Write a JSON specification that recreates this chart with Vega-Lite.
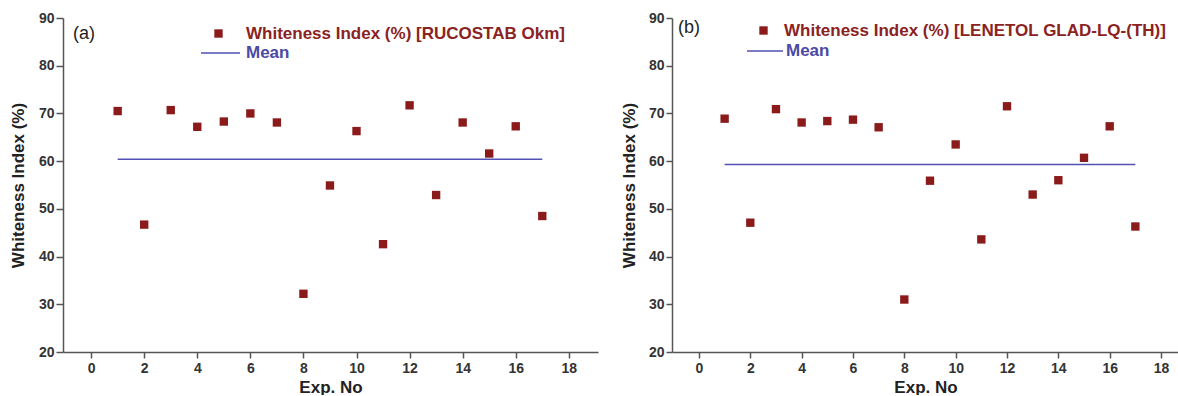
{
  "$schema": "https://vega.github.io/schema/vega-lite/v6.json",
  "background": "white",
  "padding": {"left": 9, "top": 11, "right": 0, "bottom": 0},
  "spacing": 22,
  "datasets": {
    "ptsA": [
      {"exp": 1, "wi": 70.5, "series": "Whiteness Index (%) [RUCOSTAB Okm]"},
      {"exp": 2, "wi": 46.7, "series": "Whiteness Index (%) [RUCOSTAB Okm]"},
      {"exp": 3, "wi": 70.7, "series": "Whiteness Index (%) [RUCOSTAB Okm]"},
      {"exp": 4, "wi": 67.2, "series": "Whiteness Index (%) [RUCOSTAB Okm]"},
      {"exp": 5, "wi": 68.3, "series": "Whiteness Index (%) [RUCOSTAB Okm]"},
      {"exp": 6, "wi": 70.0, "series": "Whiteness Index (%) [RUCOSTAB Okm]"},
      {"exp": 7, "wi": 68.1, "series": "Whiteness Index (%) [RUCOSTAB Okm]"},
      {"exp": 8, "wi": 32.2, "series": "Whiteness Index (%) [RUCOSTAB Okm]"},
      {"exp": 9, "wi": 54.9, "series": "Whiteness Index (%) [RUCOSTAB Okm]"},
      {"exp": 10, "wi": 66.3, "series": "Whiteness Index (%) [RUCOSTAB Okm]"},
      {"exp": 11, "wi": 42.6, "series": "Whiteness Index (%) [RUCOSTAB Okm]"},
      {"exp": 12, "wi": 71.7, "series": "Whiteness Index (%) [RUCOSTAB Okm]"},
      {"exp": 13, "wi": 52.9, "series": "Whiteness Index (%) [RUCOSTAB Okm]"},
      {"exp": 14, "wi": 68.1, "series": "Whiteness Index (%) [RUCOSTAB Okm]"},
      {"exp": 15, "wi": 61.6, "series": "Whiteness Index (%) [RUCOSTAB Okm]"},
      {"exp": 16, "wi": 67.3, "series": "Whiteness Index (%) [RUCOSTAB Okm]"},
      {"exp": 17, "wi": 48.5, "series": "Whiteness Index (%) [RUCOSTAB Okm]"}
    ],
    "ptsB": [
      {"exp": 1, "wi": 68.9, "series": "Whiteness Index (%) [LENETOL GLAD-LQ-(TH)]"},
      {"exp": 2, "wi": 47.1, "series": "Whiteness Index (%) [LENETOL GLAD-LQ-(TH)]"},
      {"exp": 3, "wi": 70.9, "series": "Whiteness Index (%) [LENETOL GLAD-LQ-(TH)]"},
      {"exp": 4, "wi": 68.1, "series": "Whiteness Index (%) [LENETOL GLAD-LQ-(TH)]"},
      {"exp": 5, "wi": 68.4, "series": "Whiteness Index (%) [LENETOL GLAD-LQ-(TH)]"},
      {"exp": 6, "wi": 68.7, "series": "Whiteness Index (%) [LENETOL GLAD-LQ-(TH)]"},
      {"exp": 7, "wi": 67.1, "series": "Whiteness Index (%) [LENETOL GLAD-LQ-(TH)]"},
      {"exp": 8, "wi": 31.0, "series": "Whiteness Index (%) [LENETOL GLAD-LQ-(TH)]"},
      {"exp": 9, "wi": 55.9, "series": "Whiteness Index (%) [LENETOL GLAD-LQ-(TH)]"},
      {"exp": 10, "wi": 63.5, "series": "Whiteness Index (%) [LENETOL GLAD-LQ-(TH)]"},
      {"exp": 11, "wi": 43.6, "series": "Whiteness Index (%) [LENETOL GLAD-LQ-(TH)]"},
      {"exp": 12, "wi": 71.5, "series": "Whiteness Index (%) [LENETOL GLAD-LQ-(TH)]"},
      {"exp": 13, "wi": 53.0, "series": "Whiteness Index (%) [LENETOL GLAD-LQ-(TH)]"},
      {"exp": 14, "wi": 56.0, "series": "Whiteness Index (%) [LENETOL GLAD-LQ-(TH)]"},
      {"exp": 15, "wi": 60.7, "series": "Whiteness Index (%) [LENETOL GLAD-LQ-(TH)]"},
      {"exp": 16, "wi": 67.3, "series": "Whiteness Index (%) [LENETOL GLAD-LQ-(TH)]"},
      {"exp": 17, "wi": 46.3, "series": "Whiteness Index (%) [LENETOL GLAD-LQ-(TH)]"}
    ],
    "meanA": [{"start": 1, "end": 17, "mean": 60.4, "series": "Mean"}],
    "meanB": [{"start": 1, "end": 17, "mean": 59.3, "series": "Mean"}]
  },
  "config": {
    "view": {"stroke": null},
    "font": "Liberation Sans",
    "axis": {
      "grid": false,
      "domainColor": "#555555",
      "domainWidth": 1.5,
      "tickColor": "#555555",
      "tickWidth": 1.5,
      "tickSize": 6,
      "labelFont": "Liberation Sans",
      "labelFontSize": 14,
      "labelFontWeight": "bold",
      "labelColor": "#333333",
      "titleFont": "Liberation Sans",
      "titleFontSize": 17,
      "titleFontWeight": "bold",
      "titleColor": "#222222"
    },
    "legend": {
      "orient": "none",
      "padding": 0,
      "labelFont": "Liberation Sans",
      "labelFontSize": 17,
      "labelFontWeight": "bold",
      "labelLimit": 600
    }
  },
  "resolve": {
    "scale": {"x": "independent", "y": "independent", "shape": "independent", "color": "independent"},
    "legend": {"shape": "independent", "color": "independent"}
  },
  "hconcat": [
    {
      "width": 535,
      "height": 334,
      "title": {"text": "(a)", "anchor": "start", "frame": "group", "orient": "top", "offset": -45.5, "dx": 10, "baseline": "alphabetic", "fontSize": 18, "fontWeight": "normal", "font": "Liberation Sans", "color": "#222222"},
      "resolve": {"scale": {"shape": "independent", "color": "independent"}, "legend": {"shape": "independent", "color": "independent"}},
      "layer": [
        {
          "data": {"name": "meanA"},
          "mark": {"type": "rule", "strokeWidth": 1.5},
          "encoding": {
            "x": {"field": "start", "type": "quantitative", "scale": {"domain": [-1.06, 19.1], "nice": false, "zero": false}, "axis": {"values": [0, 2, 4, 6, 8, 10, 12, 14, 16, 18], "title": "Exp. No", "labelPadding": 3, "titlePadding": 4}},
            "x2": {"field": "end"},
            "y": {"field": "mean", "type": "quantitative", "scale": {"domain": [20, 90], "nice": false, "zero": false}, "axis": {"values": [20, 30, 40, 50, 60, 70, 80, 90], "title": "Whiteness Index (%)", "tickSize": 7, "labelPadding": 2, "titlePadding": 11}},
            "color": {"field": "series", "type": "nominal", "scale": {"domain": ["Mean"], "range": ["#5252B5"]}, "legend": {"title": null, "legendX": 137, "legendY": 14.5, "symbolType": "stroke", "symbolSize": 1521, "symbolStrokeWidth": 1.5, "labelOffset": 5, "labelColor": "#4A4AA5"}}
          }
        },
        {
          "data": {"name": "ptsA"},
          "mark": {"type": "point", "shape": "square", "filled": true, "size": 70, "opacity": 1, "color": "#8B1A1A"},
          "encoding": {
            "x": {"field": "exp", "type": "quantitative"},
            "y": {"field": "wi", "type": "quantitative"},
            "shape": {"field": "series", "type": "nominal", "scale": {"range": ["square"]}, "legend": {"title": null, "legendX": 147, "legendY": 7, "symbolSize": 70, "symbolFillColor": "#8B1A1A", "symbolStrokeWidth": 0, "symbolOpacity": 1, "labelOffset": 19, "labelColor": "#8B2222"}}
          }
        }
      ]
    },
    {
      "width": 507,
      "height": 334,
      "title": {"text": "(b)", "anchor": "start", "frame": "group", "orient": "top", "offset": -39.5, "dx": 6, "baseline": "alphabetic", "fontSize": 18, "fontWeight": "normal", "font": "Liberation Sans", "color": "#222222"},
      "resolve": {"scale": {"shape": "independent", "color": "independent"}, "legend": {"shape": "independent", "color": "independent"}},
      "layer": [
        {
          "data": {"name": "meanB"},
          "mark": {"type": "rule", "strokeWidth": 1.5},
          "encoding": {
            "x": {"field": "start", "type": "quantitative", "scale": {"domain": [-1.05, 18.7], "nice": false, "zero": false}, "axis": {"values": [0, 2, 4, 6, 8, 10, 12, 14, 16, 18], "title": "Exp. No", "labelPadding": 3, "titlePadding": 4}},
            "x2": {"field": "end"},
            "y": {"field": "mean", "type": "quantitative", "scale": {"domain": [20, 90], "nice": false, "zero": false}, "axis": {"values": [20, 30, 40, 50, 60, 70, 80, 90], "title": "Whiteness Index (%)", "tickSize": 6, "labelPadding": 2, "titlePadding": 10}},
            "color": {"field": "series", "type": "nominal", "scale": {"domain": ["Mean"], "range": ["#5252B5"]}, "legend": {"title": null, "legendX": 74, "legendY": 14, "symbolType": "stroke", "symbolSize": 1296, "symbolStrokeWidth": 1.5, "labelOffset": 2, "labelColor": "#4A4AA5"}}
          }
        },
        {
          "data": {"name": "ptsB"},
          "mark": {"type": "point", "shape": "square", "filled": true, "size": 70, "opacity": 1, "color": "#8B1A1A"},
          "encoding": {
            "x": {"field": "exp", "type": "quantitative"},
            "y": {"field": "wi", "type": "quantitative"},
            "shape": {"field": "series", "type": "nominal", "scale": {"range": ["square"]}, "legend": {"title": null, "legendX": 83, "legendY": 4, "symbolSize": 70, "symbolFillColor": "#8B1A1A", "symbolStrokeWidth": 0, "symbolOpacity": 1, "labelOffset": 12, "labelColor": "#8B2222"}}
          }
        }
      ]
    }
  ]
}
